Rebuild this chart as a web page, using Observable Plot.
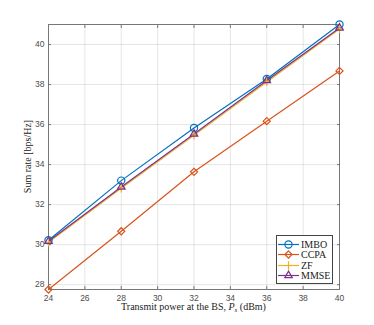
<!DOCTYPE html>
<html>
<head>
<meta charset="utf-8">
<script src="https://cdn.jsdelivr.net/npm/d3@7"></script>
<script src="https://cdn.jsdelivr.net/npm/@observablehq/plot@0.6"></script>
<style>
  html, body { margin: 0; padding: 0; background: #fff; }
  #wrap { position: relative; width: 374px; height: 325px; }
  #legend { position: absolute; left: 276px; top: 235px; width: 57px; height: 49px;
    border: 1px solid #444; background: #fff; box-sizing: border-box;
    font-family: "Liberation Serif", serif; font-size: 10px; color: #1a1a1a; }
  #legend .row { position: absolute; left: 0; height: 11px; display: flex; align-items: center; }
  #legend svg { display: block; }
</style>
</head>
<body>
<div id="wrap"></div>
<script>
const power = [24, 28, 32, 36, 40];
const seriesNames = ["IMBO", "CCPA", "ZF", "MMSE"];
const imbo = [30.22, 33.2, 35.83, 38.28, 41.0];
const ccpa = [27.76, 30.67, 33.64, 36.17, 38.68];
const zf   = [30.12, 32.82, 35.46, 38.13, 40.78];
const mmse = [30.17, 32.88, 35.53, 38.2, 40.83];
const xTicks = [24, 26, 28, 30, 32, 34, 36, 38, 40];
const yTicks = [28, 30, 32, 34, 36, 38, 40];

const colors = ["#0072BD", "#D95319", "#EDB120", "#7E2F8E"];
const symbols = ["circle", "diamond2", "plus", "triangle"];
const sizes = [3.6, 3.2, 2.8, 2.8];
const values = [imbo, ccpa, zf, mmse];

const data = [];
seriesNames.forEach((s, i) => power.forEach((p, j) => data.push({series: s, power: p, rate: values[i][j]})));
const sizeOf = d => sizes[seriesNames.indexOf(d.series)];

const chart = Plot.plot({
  width: 374, height: 325,
  marginLeft: 48, marginRight: 35, marginTop: 24, marginBottom: 36,
  style: {fontFamily: "Liberation Sans, Arial, sans-serif", fontSize: "8.5px", color: "#4d4d4d", background: "#fff"},
  x: {domain: [24, 40], ticks: xTicks},
  y: {domain: [27.76, 41.0], ticks: yTicks},
  r: {type: "identity"},
  color: {domain: seriesNames, range: colors},
  symbol: {domain: seriesNames, range: symbols},
  marks: [
    Plot.gridX(xTicks, {stroke: "#000", strokeOpacity: 0.1}),
    Plot.gridY(yTicks, {stroke: "#000", strokeOpacity: 0.1}),
    Plot.axisX({ticks: xTicks, tickSize: 0, tickPadding: 5, label: null}),
    Plot.axisY({ticks: yTicks, tickSize: 0, tickPadding: 4, label: null}),
    Plot.axisX({ticks: xTicks, anchor: "bottom", tickSize: -3, text: null, label: null, stroke: "#777"}),
    Plot.axisX({ticks: xTicks, anchor: "top", tickSize: -3, text: null, label: null, stroke: "#777"}),
    Plot.axisY({ticks: yTicks, anchor: "left", tickSize: -3, text: null, label: null, stroke: "#777"}),
    Plot.axisY({ticks: yTicks, anchor: "right", tickSize: -3, text: null, label: null, stroke: "#777"}),
    Plot.frame({stroke: "#777"}),
    Plot.line(data, {x: "power", y: "rate", z: "series", stroke: "series", strokeWidth: 1.2}),
    Plot.dot(data, {x: "power", y: "rate", stroke: "series", symbol: "series", r: sizeOf, strokeWidth: 1.2, fill: "none"})
  ]
});

const wrap = document.getElementById("wrap");
wrap.appendChild(chart);

const svg = d3.select(chart);
svg.append("text")
  .attr("x", 193.5).attr("y", 310)
  .attr("text-anchor", "middle")
  .style("font-family", "Liberation Serif, serif").style("font-size", "10px").style("fill", "#222")
  .html('Transmit power at the BS, <tspan font-style="italic">P</tspan><tspan font-style="italic" font-size="7px" dy="2">s</tspan><tspan dy="-2"> (dBm)</tspan>');
svg.append("text")
  .attr("transform", "translate(31,156.5) rotate(-90)")
  .attr("text-anchor", "middle")
  .style("font-family", "Liberation Serif, serif").style("font-size", "10px").style("fill", "#222")
  .text("Sum rate [bps/Hz]");

// legend
const leg = document.createElement("div");
leg.id = "legend";
const rowTops = [2.5, 13.3, 23.8, 34.3];
const symMap = {circle: d3.symbolCircle, diamond2: d3.symbolDiamond2, plus: d3.symbolPlus, triangle: d3.symbolTriangle};
seriesNames.forEach((s, i) => {
  const row = document.createElement("div");
  row.className = "row";
  row.style.top = rowTops[i] + "px";
  const ns = "http://www.w3.org/2000/svg";
  const sv = document.createElementNS(ns, "svg");
  sv.setAttribute("width", 24); sv.setAttribute("height", 11);
  const ln = document.createElementNS(ns, "line");
  ln.setAttribute("x1", 1); ln.setAttribute("x2", 22); ln.setAttribute("y1", 5.5); ln.setAttribute("y2", 5.5);
  ln.setAttribute("stroke", colors[i]); ln.setAttribute("stroke-width", 1.2);
  sv.appendChild(ln);
  const path = document.createElementNS(ns, "path");
  path.setAttribute("d", d3.symbol(symMap[symbols[i]], Math.PI * sizes[i] * sizes[i])());
  path.setAttribute("transform", "translate(11.5,5.5)");
  path.setAttribute("fill", "none");
  path.setAttribute("stroke", colors[i]); path.setAttribute("stroke-width", 1.2);
  sv.appendChild(path);
  row.appendChild(sv);
  const t = document.createElement("span");
  t.textContent = s;
  row.appendChild(t);
  leg.appendChild(row);
});
wrap.appendChild(leg);
</script>
</body>
</html>
